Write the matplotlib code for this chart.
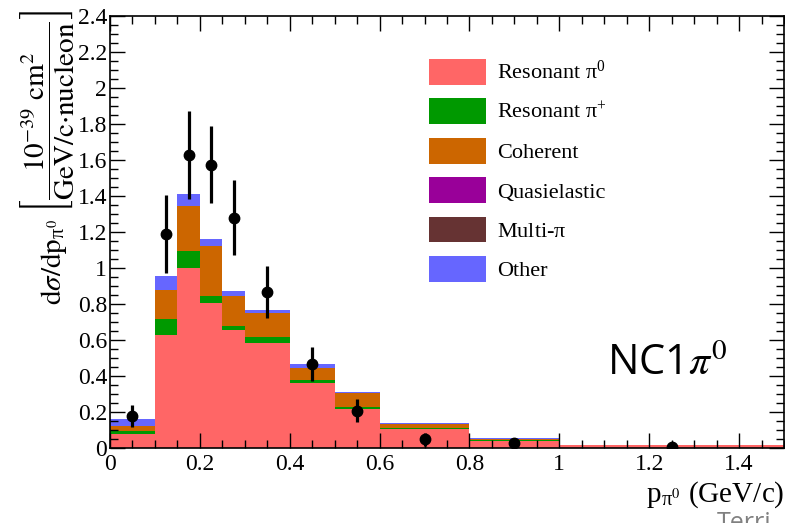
import numpy as np
import matplotlib
matplotlib.use("Agg")
import matplotlib.pyplot as plt
from matplotlib.patches import Patch
from matplotlib.ticker import MultipleLocator, FuncFormatter

plt.rcParams['font.family'] = ['Liberation Serif', 'DejaVu Serif']
plt.rcParams['mathtext.fontset'] = 'stix'

# bin edges in p_pi0 (GeV/c)
edges = [0, 0.1, 0.15, 0.2, 0.25, 0.3, 0.4, 0.5, 0.6, 0.8, 1.0, 1.5]

# MC components, stacked bottom to top
res_pi0  = [0.078, 0.628, 1.002, 0.807, 0.656, 0.586, 0.359, 0.215, 0.106, 0.041, 0.015]
res_pip  = [0.018, 0.087, 0.092, 0.039, 0.022, 0.031, 0.019, 0.011, 0.007, 0.005, 0.001]
coherent = [0.026, 0.163, 0.252, 0.278, 0.168, 0.131, 0.068, 0.078, 0.020, 0.006, 0.002]
quasiel  = [0, 0, 0, 0, 0, 0, 0, 0, 0, 0, 0]
multipi  = [0, 0, 0, 0, 0, 0, 0, 0, 0, 0, 0]
other    = [0.037, 0.079, 0.063, 0.035, 0.026, 0.019, 0.019, 0.009, 0.006, 0.001, 0.0]

# data points
data_x   = [0.05, 0.125, 0.175, 0.225, 0.275, 0.35, 0.45, 0.55, 0.7, 0.9, 1.25]
data_y   = [0.178, 1.19, 1.628, 1.575, 1.28, 0.868, 0.468, 0.208, 0.048, 0.030, 0.004]
data_err = [0.06, 0.215, 0.245, 0.215, 0.21, 0.145, 0.095, 0.063, 0.035, 0.01, 0.005]

labels = [r'Resonant $\mathregular{\pi^{0}}$', r'Resonant $\mathregular{\pi^{+}}$',
          'Coherent', 'Quasielastic', r'Multi-$\mathregular{\pi}$', 'Other']
colors = ['#ff6666', '#009900', '#cc6600', '#990099', '#663333', '#6666ff']
comps = [res_pi0, res_pip, coherent, quasiel, multipi, other]

fig = plt.figure(figsize=(7.85, 5.23), dpi=100)
ax = fig.add_axes([110/785, 1-448/523, 674/785, 432/523])

left = np.array(edges[:-1])
width = np.diff(edges)
bottom = np.zeros(len(left))
for vals, col in zip(comps, colors):
    vals = np.array(vals)
    ax.bar(left, vals, width=width, bottom=bottom, align='edge',
           color=col, linewidth=0)
    bottom += vals

ax.errorbar(data_x, data_y, yerr=data_err, fmt='o', color='black',
            markersize=7.5, elinewidth=2.3, capsize=0, zorder=5)

ax.set_xlim(0, 1.5)
ax.set_ylim(0, 2.4)
ax.xaxis.set_major_locator(MultipleLocator(0.2))
ax.xaxis.set_minor_locator(MultipleLocator(0.05))
ax.yaxis.set_major_locator(MultipleLocator(0.2))
ax.yaxis.set_minor_locator(MultipleLocator(0.05))
fmt = FuncFormatter(lambda v, p: '%g' % round(v, 3))
ax.xaxis.set_major_formatter(fmt)
ax.yaxis.set_major_formatter(fmt)
ax.tick_params(which='both', direction='in', top=True, right=True,
               labelsize=17, width=1)
ax.tick_params(which='major', length=11)
ax.tick_params(which='minor', length=6)
ax.tick_params(axis='x', pad=4)
ax.tick_params(axis='y', pad=2)
for s in ax.spines.values():
    s.set_linewidth(1.2)

handles = [Patch(facecolor=c, edgecolor='none') for c in colors]
ax.legend(handles, labels, loc='upper left', bbox_to_anchor=(429/785, 1-59/523),
          bbox_transform=fig.transFigure, frameon=False, fontsize=16,
          handlelength=2.57, handleheight=1.4, labelspacing=0.62,
          handletextpad=0.5, borderpad=0, borderaxespad=0)

# y axis title in two parts
fig.text(54/785, 1-262/523, r'$\mathrm{d}\sigma/\mathrm{dp}_{\mathregular{\pi}^{0}}$',
         rotation=90, ha='center', va='center', fontsize=21)
fig.text(47/785, 1-112/523,
         r'$\left[\dfrac{10^{-39}\ \mathrm{cm}^{2}}{\mathrm{GeV/c{\cdot}nucleon}}\right]$',
         rotation=90, ha='center', va='center', fontsize=21)

fig.text(784/785, 1-502/523, r'p$_{\mathregular{\pi}^{0}}$ (GeV/c)', ha='right',
         va='baseline', fontsize=21)

fig.text(607/785, 1-375/523, r'NC1$\pi^{0}$', family='Open Sans',
         ha='left', va='baseline', fontsize=30)
fig.text(717/785, 1-530/523, 'Terri', family='Open Sans', color='#808080',
         ha='left', va='baseline', fontsize=18)

fig.savefig('out.png', dpi=100)
